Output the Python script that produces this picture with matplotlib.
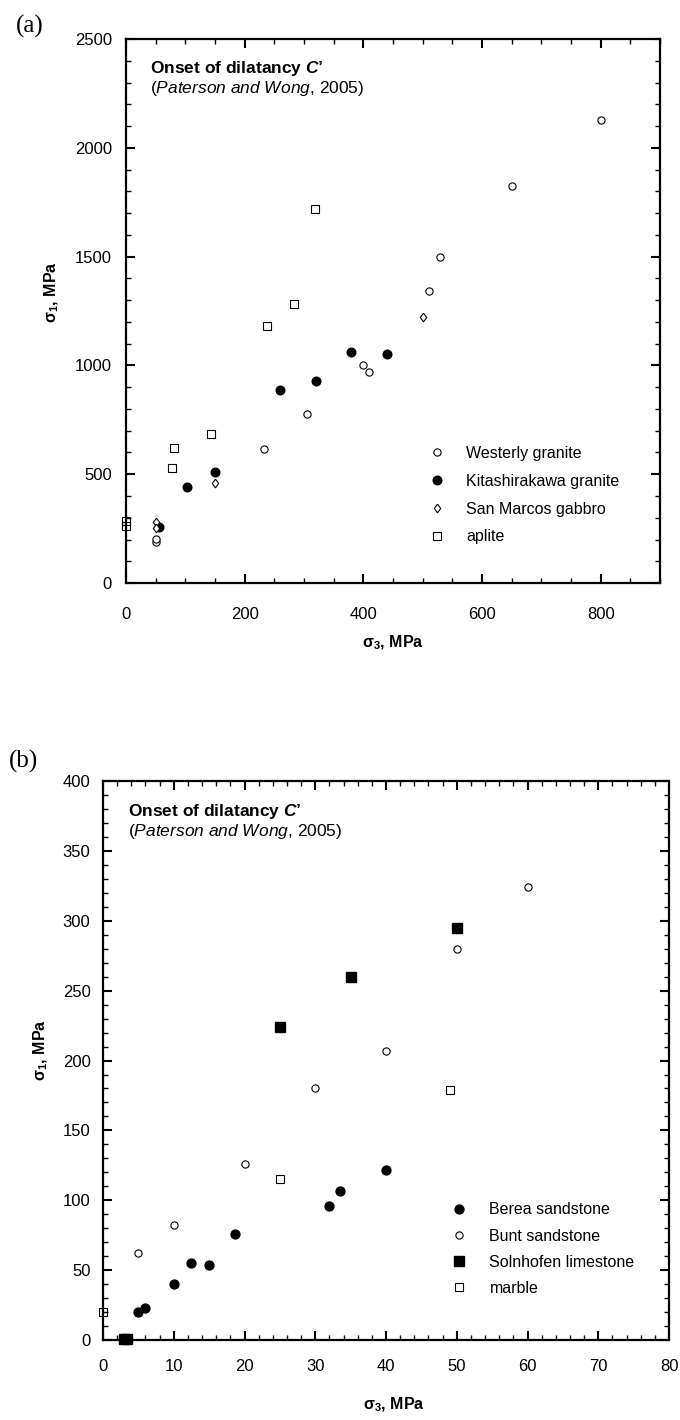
import numpy as np
import matplotlib
matplotlib.use('Agg')
import matplotlib.pyplot as plt
from matplotlib.ticker import MultipleLocator

plt.rcParams['font.family'] = ['Liberation Sans', 'DejaVu Sans']
plt.rcParams['mathtext.fontset'] = 'custom'
plt.rcParams['mathtext.rm'] = 'Liberation Sans'
plt.rcParams['mathtext.it'] = 'Liberation Sans:italic'
plt.rcParams['mathtext.bf'] = 'Liberation Sans:bold'
plt.rcParams['mathtext.bfit'] = 'Liberation Sans:bold:italic'

# ---- panel (a): crystalline rocks ----
westerly_x = [50, 51, 233, 305, 400, 410, 510, 530, 650, 800]
westerly_y = [190, 202, 614, 777, 1000, 972, 1342, 1500, 1825, 2130]

kitashira_x = [56, 102, 150, 260, 320, 380, 440]
kitashira_y = [256, 443, 509, 888, 930, 1061, 1054]

gabbro_x = [50, 50, 150, 500]
gabbro_y = [279, 251, 461, 1222]

aplite_x = [0, 0, 77, 81, 144, 238, 283, 318]
aplite_y = [285, 262, 528, 622, 685, 1180, 1283, 1720]

# ---- panel (b): sedimentary rocks ----
berea_x = [5, 6, 10, 12.4, 15, 18.7, 32, 33.5, 40]
berea_y = [20, 23, 40, 55, 54, 76, 96, 107, 122]

bunt_x = [5, 10, 20, 30, 40, 50, 60]
bunt_y = [62, 82, 126, 180, 207, 280, 324]

solnhofen_x = [3.0, 3.4, 25, 35, 50]
solnhofen_y = [0.5, 0.5, 224, 260, 295]

marble_x = [0, 25, 49]
marble_y = [20, 115, 179]

FS = 11.5
DIAMOND = [(0, 1), (0.75, 0), (0, -1), (-0.75, 0), (0, 1)]


def style_axes(ax, xmaj, xmin, ymaj, ymin, xpad, ypad):
    for sp in ax.spines.values():
        sp.set_linewidth(1.6)
    ax.xaxis.set_major_locator(MultipleLocator(xmaj))
    ax.xaxis.set_minor_locator(MultipleLocator(xmin))
    ax.yaxis.set_major_locator(MultipleLocator(ymaj))
    ax.yaxis.set_minor_locator(MultipleLocator(ymin))
    ax.tick_params(which='both', direction='in', top=True, right=True,
                   labelsize=12, colors='black')
    ax.tick_params(which='major', length=6.5, width=1.5)
    ax.tick_params(which='minor', length=3.3, width=1.0)
    ax.tick_params(axis='x', which='both', pad=xpad)
    ax.tick_params(axis='y', which='both', pad=ypad)


def note(ax):
    ax.text(0.045, 0.938, r"Onset of dilatancy $\mathbfit{C}$’",
            transform=ax.transAxes, fontsize=12.5, fontweight='bold',
            ha='left', va='baseline')
    ax.text(0.045, 0.901, r"($\mathit{Paterson\ and\ Wong}$, 2005)",
            transform=ax.transAxes, fontsize=12.5, ha='left', va='baseline')


fig = plt.figure(figsize=(6.8, 14.2), dpi=100)

# panel (a)
ax1 = fig.add_axes([0.1853, 0.5894, 0.7853, 0.3831])
ax1.plot(westerly_x, westerly_y, 'o', ms=5.2, mfc='white', mec='black',
         mew=0.8, ls='none', label='Westerly granite', clip_on=False)
ax1.plot(kitashira_x, kitashira_y, 'o', ms=6.2, mfc='black', mec='black',
         ls='none', label='Kitashirakawa granite', clip_on=False)
ax1.plot(gabbro_x, gabbro_y, marker=DIAMOND, ms=6.2, mfc='white',
         mec='black', mew=0.8, ls='none', label='San Marcos gabbro',
         clip_on=False)
ax1.plot(aplite_x, aplite_y, 's', ms=5.4, mfc='none', mec='black',
         mew=0.8, ls='none', label='aplite', clip_on=False)
ax1.set_xlim(0, 900)
ax1.set_ylim(0, 2500)
style_axes(ax1, 200, 50, 500, 100, 17, 10)
ax1.set_xlabel(r'σ$_\mathbf{3}$, MPa', fontsize=FS, fontweight='bold')
ax1.set_ylabel(r'σ$_\mathbf{1}$, MPa', fontsize=FS, fontweight='bold')
ax1.xaxis.set_label_coords(0.5, -0.092)
ax1.yaxis.set_label_coords(-0.122, 0.535)
note(ax1)
ax1.legend(loc='upper left', bbox_to_anchor=(511, 630),
           bbox_transform=ax1.transData, frameon=False, fontsize=FS,
           borderpad=0, borderaxespad=0, handlelength=1.0,
           handletextpad=1.3, labelspacing=0.8, numpoints=1)

# panel (b)
ax2 = fig.add_axes([0.1515, 0.0563, 0.8324, 0.3937])
ax2.plot(berea_x, berea_y, 'o', ms=6.4, mfc='black', mec='black',
         ls='none', label='Berea sandstone', clip_on=False)
ax2.plot(bunt_x, bunt_y, 'o', ms=5.2, mfc='white', mec='black', mew=0.8,
         ls='none', label='Bunt sandstone', clip_on=False)
ax2.plot(solnhofen_x, solnhofen_y, 's', ms=6.6, mfc='black', mec='black',
         ls='none', label='Solnhofen limestone', clip_on=False)
ax2.plot(marble_x, marble_y, 's', ms=5.2, mfc='none', mec='black',
         mew=0.8, ls='none', label='marble', clip_on=False)
ax2.set_xlim(0, 80)
ax2.set_ylim(0, 400)
style_axes(ax2, 10, 2, 50, 10, 14, 9)
ax2.set_xlabel(r'σ$_\mathbf{3}$, MPa', fontsize=FS, fontweight='bold')
ax2.set_ylabel(r'σ$_\mathbf{1}$, MPa', fontsize=FS, fontweight='bold')
ax2.xaxis.set_label_coords(0.513, -0.100)
ax2.yaxis.set_label_coords(-0.094, 0.519)
note(ax2)
ax2.legend(loc='upper left', bbox_to_anchor=(49.2, 98.5),
           bbox_transform=ax2.transData, frameon=False, fontsize=FS,
           borderpad=0, borderaxespad=0, handlelength=1.0,
           handletextpad=1.4, labelspacing=0.7, numpoints=1)

fig.text(0.044, 0.9817, '(a)', family='Liberation Serif', fontsize=18,
         ha='center', va='center')
fig.text(0.034, 0.464, '(b)', family='Liberation Serif', fontsize=18,
         ha='center', va='center')

fig.savefig('out.png', dpi=100)
